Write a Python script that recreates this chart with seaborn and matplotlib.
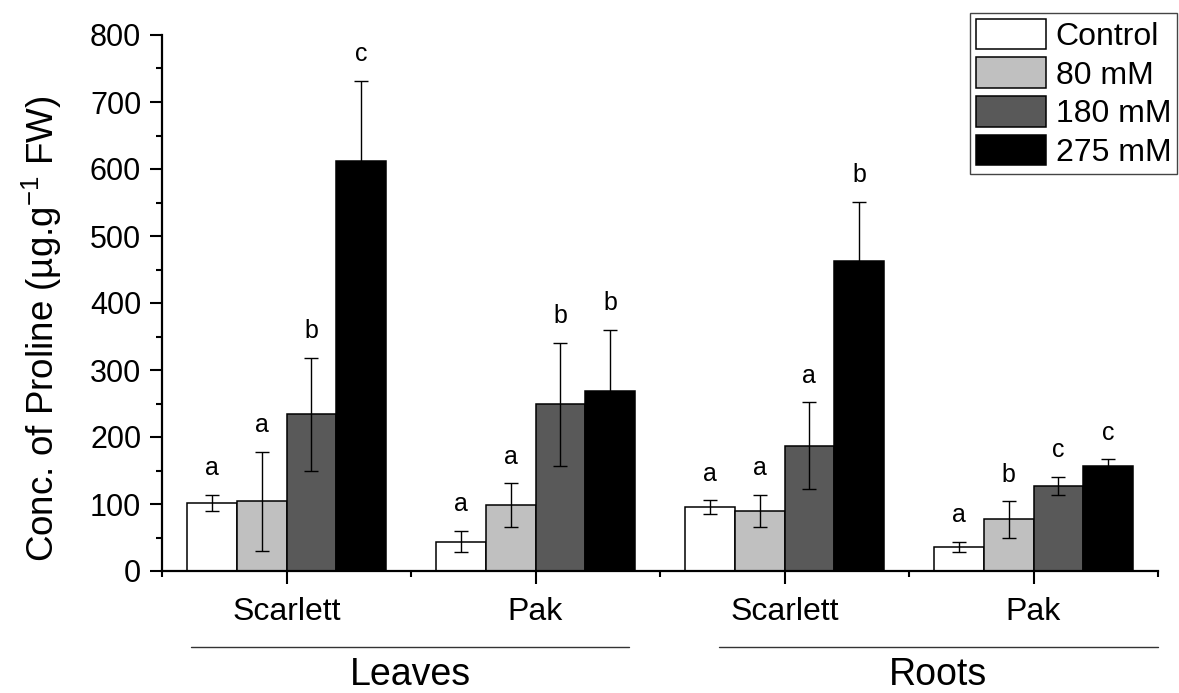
import numpy as np
import pandas as pd
import matplotlib
matplotlib.use("Agg")
import matplotlib.pyplot as plt
from matplotlib.lines import Line2D
import seaborn as sns

# ---- data ----
groups = ["Leaves Scarlett", "Leaves Pak", "Roots Scarlett", "Roots Pak"]
group_labels = ["Scarlett", "Pak", "Scarlett", "Pak"]
conditions = ["Control", "80 mM", "180 mM", "275 mM"]

control = [102, 44, 95, 36]
mm80 = [104, 98, 90, 77]
mm180 = [234, 249, 187, 127]
mm275 = [612, 269, 463, 157]

control_se = [12, 16, 10.5, 8]
mm80_se = [74, 33, 24, 27]
mm180_se = [84, 92, 65, 14]
mm275_se = [120, 91, 88, 10]

control_let = ["a", "a", "a", "a"]
mm80_let = ["a", "a", "a", "b"]
mm180_let = ["b", "b", "a", "c"]
mm275_let = ["c", "b", "b", "c"]

tissues = ["Leaves", "Roots"]
colors = ["#ffffff", "#c0c0c0", "#595959", "#000000"]

means = [control, mm80, mm180, mm275]
ses = [control_se, mm80_se, mm180_se, mm275_se]
letters = [control_let, mm80_let, mm180_let, mm275_let]

rows = []
for c, vals in zip(conditions, means):
    for g, v in zip(groups, vals):
        rows.append({"group": g, "condition": c, "value": v})
df = pd.DataFrame(rows)

# ---- style ----
sns.set_style("ticks")
plt.rcParams["font.family"] = ["Liberation Sans", "DejaVu Sans"]
plt.rcParams["mathtext.fontset"] = "custom"
plt.rcParams["mathtext.rm"] = "Liberation Sans"
plt.rcParams["mathtext.it"] = "Liberation Sans:italic"
for k in ["text.color", "axes.labelcolor", "xtick.color", "ytick.color",
          "axes.edgecolor"]:
    plt.rcParams[k] = "black"

fig = plt.figure(figsize=(11.79, 6.93), dpi=100)
W, H = 1179, 693
ax = fig.add_axes([162 / W, 1 - 571 / H, (1158 - 162) / W, (571 - 35) / H])

sns.barplot(data=df, x="group", y="value", hue="condition", order=groups,
            hue_order=conditions, palette=colors, saturation=1,
            edgecolor="black", linewidth=1.1, errorbar=None, width=0.8,
            ax=ax, legend=True, zorder=2)

bar_containers = list(ax.containers)
for i, cont in enumerate(bar_containers):
    xs = [p.get_x() + p.get_width() / 2 for p in cont.patches]
    ys = means[i]
    ax.errorbar(xs, ys, yerr=ses[i], fmt="none", ecolor="black",
                elinewidth=1.0, capsize=4.7, capthick=1.0, zorder=3)
    for x, y, e, t in zip(xs, ys, ses[i], letters[i]):
        ax.annotate(t, (x, y + e), xytext=(0, 14), textcoords="offset points",
                    ha="center", va="baseline", fontsize=18, color="black")

ax.set_xlim(-0.5, 3.5)
ax.set_ylim(0, 800)
ax.set_yticks(np.arange(0, 801, 100))
ax.set_yticks(np.arange(0, 801, 50), minor=True)
ax.set_xticks(range(4))
ax.set_xticklabels(group_labels)
ax.set_xticks([-0.5, 0.5, 1.5, 2.5, 3.5], minor=True)
ax.tick_params(axis="both", which="major", direction="out", length=9,
               width=1.5, labelsize=22, color="black", labelcolor="black")
ax.tick_params(axis="y", which="major", pad=6)
ax.tick_params(axis="x", which="major", pad=10, labelsize=23)
ax.tick_params(axis="both", which="minor", direction="out", length=4.5,
               width=1.5, color="black")
ax.set_xlabel("")
ax.set_ylabel("")
sns.despine(ax=ax)
for s in ["left", "bottom"]:
    ax.spines[s].set_linewidth(1.6)
    ax.spines[s].set_color("black")

fig.text(42 / W, 1 - 329 / H, r"Conc. of Proline (µg.g$^{-1}$ FW)",
         rotation=90, ha="center", va="center", fontsize=26.5, color="black")

# legend
handles, labels = ax.get_legend_handles_labels()
ax.get_legend().remove()
leg = fig.legend(handles, labels, loc="upper right",
                 bbox_to_anchor=(1177 / W, 1 - 13 / H),
                 bbox_transform=fig.transFigure, borderaxespad=0,
                 fontsize=23, handlelength=2.2, handleheight=1.1,
                 labelspacing=0.17, handletextpad=0.3, borderpad=0.18,
                 fancybox=False, framealpha=1, edgecolor="#444444")
leg.get_frame().set_linewidth(1.0)
for h in leg.legend_handles:
    h.set_edgecolor("black")
    h.set_linewidth(1.1)
for t in leg.get_texts():
    t.set_color("black")

# tissue group lines and labels
for (x0, x1), name in zip([(191, 629), (719, 1158)], tissues):
    fig.add_artist(Line2D([x0 / W, x1 / W], [1 - 647 / H, 1 - 647 / H],
                          transform=fig.transFigure, color="#333333", lw=1.0))
    fig.text((x0 + x1) / 2 / W, 1 - 675 / H, name, ha="center", va="center",
             fontsize=27, color="black")

fig.savefig("out.png", dpi=100)
